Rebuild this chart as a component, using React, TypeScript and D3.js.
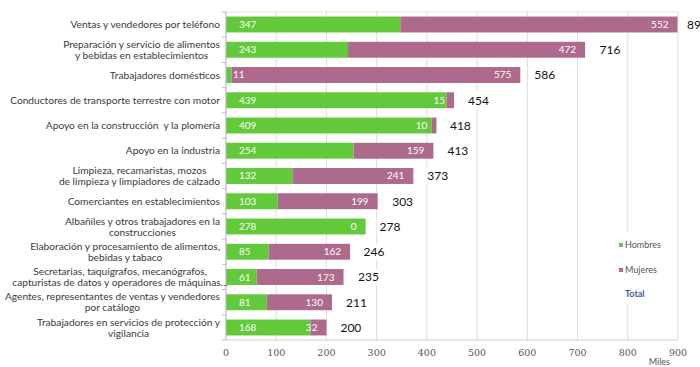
import { useEffect, useRef } from 'react'
import * as d3 from 'd3'

const categories = [
  ['Ventas y vendedores por teléfono'],
  ['Preparación y servicio de alimentos', 'y bebidas en establecimientos'],
  ['Trabajadores domésticos'],
  ['Conductores de transporte terrestre con motor'],
  ['Apoyo en la construcción  y la plomería'],
  ['Apoyo en la industria'],
  ['Limpieza, recamaristas, mozos', 'de limpieza y limpiadores de calzado'],
  ['Comerciantes en establecimientos'],
  ['Albañiles y otros trabajadores en la', 'construcciones'],
  ['Elaboración y procesamiento de alimentos,', 'bebidas y tabaco'],
  ['Secretarias, taquígrafos, mecanógrafos,', 'capturistas de datos y operadores de máquinas...'],
  ['Agentes, representantes de ventas y vendedores', 'por catálogo'],
  ['Trabajadores en servicios de protección y', 'vigilancia'],
]
const hombres = [347, 243, 11, 439, 409, 254, 132, 103, 278, 85, 61, 81, 168]
const mujeres = [552, 472, 575, 15, 10, 159, 241, 199, 0, 162, 173, 130, 32]
const totales = [899, 716, 586, 454, 418, 413, 373, 303, 278, 246, 235, 211, 200]
const xTicks = [0, 100, 200, 300, 400, 500, 600, 700, 800, 900]

const GREEN = '#62C93A'
const MAUVE = '#AE6A8C'
const SANS = 'Lato, "Open Sans", sans-serif'

export default function App() {
  const svgRef = useRef<SVGSVGElement>(null)

  useEffect(() => {
    if (!svgRef.current) return
    const svg = d3.select(svgRef.current)
    svg.selectAll('*').remove()

    const width = 700
    const height = 367
    const margin = { top: 12, right: 22, bottom: 27, left: 226 }
    const innerW = width - margin.left - margin.right
    const innerH = height - margin.top - margin.bottom

    svg.attr('width', width).attr('height', height)
    svg.append('rect').attr('width', width).attr('height', height).attr('fill', '#fff')

    const g = svg.append('g').attr('transform', `translate(${margin.left},${margin.top})`)

    const x = d3.scaleLinear().domain([0, 900]).range([0, innerW])
    const idx = categories.map((_, i) => i)
    const y = d3.scaleBand<number>().domain(idx).range([0, innerH]).paddingInner(0.37).paddingOuter(0.18)

    // gridlines
    g.selectAll('.grid')
      .data(xTicks)
      .enter().append('line')
      .attr('x1', d => x(d)).attr('x2', d => x(d))
      .attr('y1', 0).attr('y2', innerH)
      .attr('stroke', '#dcdcdc')
    g.append('line')
      .attr('x1', 0).attr('x2', innerW).attr('y1', 0).attr('y2', 0)
      .attr('stroke', '#e4e4e4')

    // bars
    const rows = g.selectAll('.row')
      .data(idx)
      .enter().append('g')
      .attr('transform', i => `translate(0,${y(i)})`)

    rows.append('rect')
      .attr('x', 0)
      .attr('width', i => x(hombres[i]))
      .attr('height', y.bandwidth())
      .attr('fill', GREEN)
    rows.append('rect')
      .attr('x', i => x(hombres[i]))
      .attr('width', i => x(hombres[i] + mujeres[i]) - x(hombres[i]))
      .attr('height', y.bandwidth())
      .attr('fill', MAUVE)

    const mid = y.bandwidth() / 2
    rows.append('text')
      .attr('x', i => (hombres[i] < 20 ? 7 : 13))
      .attr('y', mid)
      .attr('dy', '0.35em')
      .attr('fill', '#fff')
      .style('font-family', SANS)
      .style('font-size', '10px')
      .text(i => hombres[i])
    rows.append('text')
      .attr('x', i => x(hombres[i] + mujeres[i]) - 9)
      .attr('y', mid)
      .attr('dy', '0.35em')
      .attr('text-anchor', 'end')
      .attr('fill', '#fff')
      .style('font-family', SANS)
      .style('font-size', '10px')
      .text(i => mujeres[i])

    // totals with white box (kept inside the chart at the right edge)
    const tot = rows.append('g')
      .attr('transform', i => `translate(${Math.min(x(totales[i]) + 14, innerW + 9)},${mid})`)
    tot.append('rect')
      .attr('x', -3).attr('y', -8).attr('width', 26).attr('height', 16)
      .attr('fill', '#fff')
    tot.append('text')
      .attr('dy', '0.36em')
      .attr('fill', '#111')
      .style('font-family', SANS)
      .style('font-size', '12px')
      .text(i => totales[i])

    // axes lines
    g.append('line')
      .attr('x1', 0).attr('x2', 0).attr('y1', 0).attr('y2', innerH)
      .attr('stroke', '#bdbdbd')
    g.append('line')
      .attr('x1', 0).attr('x2', innerW).attr('y1', innerH).attr('y2', innerH)
      .attr('stroke', '#d0d0d0')
    g.selectAll('.ytick')
      .data(d3.range(categories.length + 1))
      .enter().append('line')
      .attr('x1', -4).attr('x2', 0)
      .attr('y1', i => i * (innerH / categories.length))
      .attr('y2', i => i * (innerH / categories.length))
      .attr('stroke', '#bdbdbd')

    // category labels (multi-line, centred block, right aligned)
    categories.forEach((lines, i) => {
      const cy = (y(i) as number) + mid
      const tg = g.append('g')
      const lh = 11
      const texts = lines.map((line, j) =>
        tg.append('text')
          .attr('y', cy + (j - (lines.length - 1) / 2) * lh)
          .attr('dy', '0.35em')
          .attr('text-anchor', 'middle')
          .attr('fill', '#3a3a3a')
          .style('font-family', SANS)
          .style('font-size', '10.2px')
          .style('white-space', 'pre')
          .text(line)
      )
      const maxW = d3.max(texts, t => (t.node() as SVGTextElement).getComputedTextLength()) || 0
      const right = lines[1] && lines[1].endsWith('...') ? 2 : -6
      texts.forEach(t => t.attr('x', right - maxW / 2))
    })

    // bottom tick labels
    g.selectAll('.xlab')
      .data(xTicks)
      .enter().append('text')
      .attr('x', d => x(d))
      .attr('y', innerH + 16)
      .attr('text-anchor', 'middle')
      .attr('fill', '#555')
      .style('font-family', '"DejaVu Serif", "Liberation Serif", serif')
      .style('font-size', '9.5px')
      .text(d => d)
    g.append('text')
      .attr('x', x(900) - 8)
      .attr('y', innerH + 25)
      .attr('text-anchor', 'end')
      .attr('fill', '#555')
      .style('font-family', SANS)
      .style('font-size', '9px')
      .text('Miles')

    // legend
    const lg = svg.append('g').attr('transform', 'translate(617,232)')
    lg.append('rect').attr('x', 0).attr('y', 0).attr('width', 50).attr('height', 72).attr('fill', '#fff')
    const items = [
      { label: 'Hombres', color: GREEN, y: 13 },
      { label: 'Mujeres', color: MAUVE, y: 38 },
    ]
    items.forEach(it => {
      lg.append('rect').attr('x', 2).attr('y', it.y - 2).attr('width', 4).attr('height', 4).attr('fill', it.color)
      lg.append('text')
        .attr('x', 8).attr('y', it.y).attr('dy', '0.35em')
        .attr('fill', '#555')
        .style('font-family', SANS)
        .style('font-size', '9px')
        .text(it.label)
    })
    lg.append('text')
      .attr('x', 8).attr('y', 62).attr('dy', '0.35em')
      .attr('fill', '#3b5d9a')
      .style('font-family', SANS)
      .style('font-size', '9px')
      .style('font-weight', 'bold')
      .text('Total')
  }, [])

  return (
    <div style={{ position: 'absolute', left: 0, top: 0 }}>
      <svg ref={svgRef} style={{ display: 'block' }}></svg>
    </div>
  )
}
